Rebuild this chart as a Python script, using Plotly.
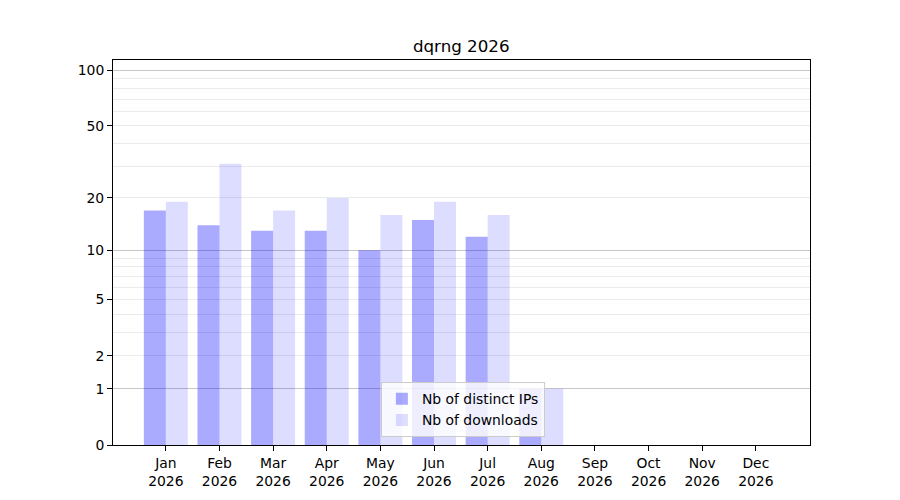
import numpy as np
import plotly.graph_objects as go

months = ["Jan", "Feb", "Mar", "Apr", "May", "Jun", "Jul", "Aug", "Sep", "Oct", "Nov", "Dec"]
year = "2026"
distinct_ips = [17, 14, 13, 13, 10, 15, 12, 1]
downloads = [19, 31, 17, 20, 16, 19, 16, 1]
y_tick_values = [0, 1, 2, 5, 10, 20, 50, 100]
y_major_grid = [1, 10, 100]
y_minor_grid = [2, 3, 4, 5, 6, 7, 8, 9, 20, 30, 40, 50, 60, 70, 80, 90]


def tr(v):
    return np.log10(1 + np.asarray(v, dtype=float))


x_ips = list(range(len(distinct_ips)))
x_dl = list(range(len(downloads)))
font = "DejaVu Sans"

fig = go.Figure()
fig.add_trace(go.Bar(x=x_ips, y=tr(distinct_ips), name="Nb of distinct IPs",
                     marker=dict(color="rgba(0,0,255,0.333)", line=dict(width=0)),
                     customdata=distinct_ips, hovertemplate="%{customdata}"))
fig.add_trace(go.Bar(x=x_dl, y=tr(downloads), name="Nb of downloads",
                     marker=dict(color="rgba(0,0,255,0.135)", line=dict(width=0)),
                     customdata=downloads, hovertemplate="%{customdata}"))
# invisible trace for overlay axis carrying the darker major grid
fig.add_trace(go.Scatter(x=[0], y=[0], yaxis="y2", mode="markers",
                         marker=dict(opacity=0), showlegend=False, hoverinfo="skip"))

yrange = [0, 2.060]
fig.update_layout(
    width=900, height=500,
    paper_bgcolor="white", plot_bgcolor="white",
    margin=dict(l=113, r=90, t=60, b=55, autoexpand=False),
    font=dict(family=font, size=13.9, color="black"),
    title=dict(text="dqrng 2026", x=0.5125, xanchor="center", y=0.908, yanchor="middle",
               font=dict(family=font, size=16.7, color="black")),
    barmode="group", bargap=0.18, bargroupgap=0.0,
    showlegend=True,
    legend=dict(x=0.502, y=0.02, xanchor="center", yanchor="bottom",
                bgcolor="rgba(255,255,255,0.8)", bordercolor="#cccccc", borderwidth=1,
                font=dict(family=font, size=13.9), tracegroupgap=0,
                itemsizing="constant"),
    xaxis=dict(
        range=[-0.985, 12.01], automargin=False,
        tickmode="array",
        tickvals=list(range(len(months))),
        ticktext=[f"{m}<br>{year}" for m in months],
        ticks="outside", ticklen=5, tickwidth=1, tickcolor="black",
        showgrid=False, zeroline=False,
        showline=True, linecolor="black", linewidth=1, mirror=True,
    ),
    yaxis=dict(
        range=yrange, automargin=False,
        tickmode="array",
        tickvals=list(tr(y_tick_values)),
        ticktext=[str(v) for v in y_tick_values],
        ticks="outside", ticklen=5, tickwidth=1, tickcolor="black",
        showgrid=False, zeroline=False,
        showline=True, linecolor="black", linewidth=1, mirror=True,
        minor=dict(tickmode="array", tickvals=list(tr(y_minor_grid)),
                   showgrid=True, gridcolor="#ebebeb", gridwidth=1, ticks=""),
    ),
    yaxis2=dict(
        range=yrange, overlaying="y", side="left", automargin=False,
        tickmode="array", tickvals=list(tr(y_major_grid)),
        showticklabels=False, ticks="",
        showgrid=True, gridcolor="#c6c6c6", gridwidth=1,
        zeroline=False, showline=False,
    ),
)

fig.write_html("out.html", config={"displayModeBar": False},
               post_script="document.body.style.margin='0px';")
